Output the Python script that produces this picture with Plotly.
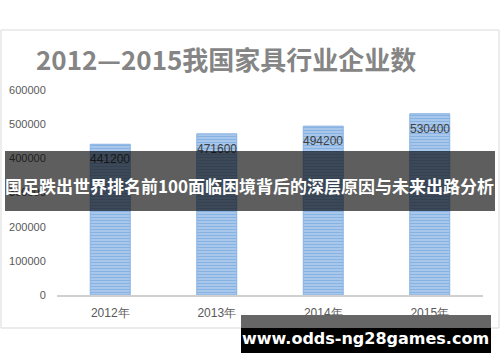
import plotly.graph_objects as go

categories = ["2012年", "2013年", "2014年", "2015年"]
values = [441200, 471600, 494200, 530400]
y_ticks = [0, 100000, 200000, 300000, 400000, 500000, 600000]
title_text = "2012—2015我国家具行业企业数"
banner_text = "国足跌出世界排名前100面临困境背后的深层原因与未来出路分析"
site_text = "www.odds-ng28games.com"

W, H = 500, 362
def px(x):
    return x / W
def py(y):
    return (H - y) / H

fig = go.Figure()
fig.add_trace(go.Bar(
    x=categories, y=values, width=0.375,
    marker=dict(
        color="#aecbec",
        line=dict(color="#86b2e3", width=1),
        pattern=dict(shape="-", size=3, solidity=0.45, fgcolor="#609bdc", bgcolor="#aecbec", fillmode="overlay"),
    ),
    hoverinfo="skip",
))

annotations = []
for c, v in zip(categories, values):
    annotations.append(dict(
        x=c, y=v, xref="x", yref="y", text=str(v), showarrow=False,
        yanchor="middle", yshift=-15,
        font=dict(family="Liberation Sans, Arial", size=12, color="#404040"),
    ))
annotations.append(dict(
    x=px(226), y=py(59), xref="paper", yref="paper", text=f"<b>{title_text}</b>",
    showarrow=False, xanchor="center", yanchor="middle",
    font=dict(family="Noto Sans CJK SC", size=26, color="#858585"),
))
# dark band (covers the bar labels beneath it)
annotations.append(dict(
    x=px(250), y=py(181), xref="paper", yref="paper", text=" ",
    showarrow=False, xanchor="center", yanchor="middle", width=490, height=60,
    borderpad=0, borderwidth=0, bgcolor="rgba(0,0,0,0.63)",
    font=dict(size=10, color="white"),
))
annotations.append(dict(
    x=px(249), y=py(185), xref="paper", yref="paper", text=f"<b>{banner_text}</b>",
    showarrow=False, xanchor="center", yanchor="middle",
    font=dict(family="Noto Sans CJK SC", size=17, color="white"),
))
annotations.append(dict(
    x=px(365), y=py(338), xref="paper", yref="paper", text=f"<b>{site_text}</b>",
    showarrow=False, xanchor="center", yanchor="middle",
    font=dict(family="DejaVu Sans", size=16, color="white"),
))

shapes = [
    dict(type="rect", xref="paper", yref="paper", x0=px(1), x1=px(499), y0=py(328), y1=py(30),
         line=dict(color="#d9d9d9", width=1), fillcolor="rgba(0,0,0,0)", layer="below"),
    dict(type="rect", xref="paper", yref="paper", x0=px(241), x1=px(491), y0=py(328), y1=py(315),
         line=dict(width=0), fillcolor="#666666", layer="above"),
    dict(type="rect", xref="paper", yref="paper", x0=px(241), x1=px(491), y0=py(353), y1=py(328),
         line=dict(width=0), fillcolor="#000000", layer="above"),
]

fig.update_layout(
    width=W, height=H, margin=dict(l=0, r=0, t=0, b=0, pad=0, autoexpand=False),
    paper_bgcolor="white", plot_bgcolor="white", showlegend=False,
    annotations=annotations, shapes=shapes,
    xaxis=dict(domain=[px(57), px(483)], range=[-0.5, 3.5], showline=True, linecolor="#d0d0d0",
               linewidth=2, showgrid=False, ticks="outside", ticklen=6, tickcolor="rgba(0,0,0,0)",
               automargin=False,
               tickfont=dict(family="Liberation Sans, Arial", size=12, color="#595959"), fixedrange=True),
    yaxis=dict(domain=[py(295), py(90)], range=[0, 600000], tickvals=y_ticks,
               ticktext=[str(t) for t in y_ticks], showgrid=False, showline=False, zeroline=False,
               ticks="outside", ticklen=8, tickcolor="rgba(0,0,0,0)", automargin=False,
               tickfont=dict(family="Liberation Sans, Arial", size=11, color="#595959"), fixedrange=True),
)

fig.write_html("out.html", config={"displayModeBar": False},
               post_script="document.body.style.margin='0';document.body.style.overflow='hidden';")
